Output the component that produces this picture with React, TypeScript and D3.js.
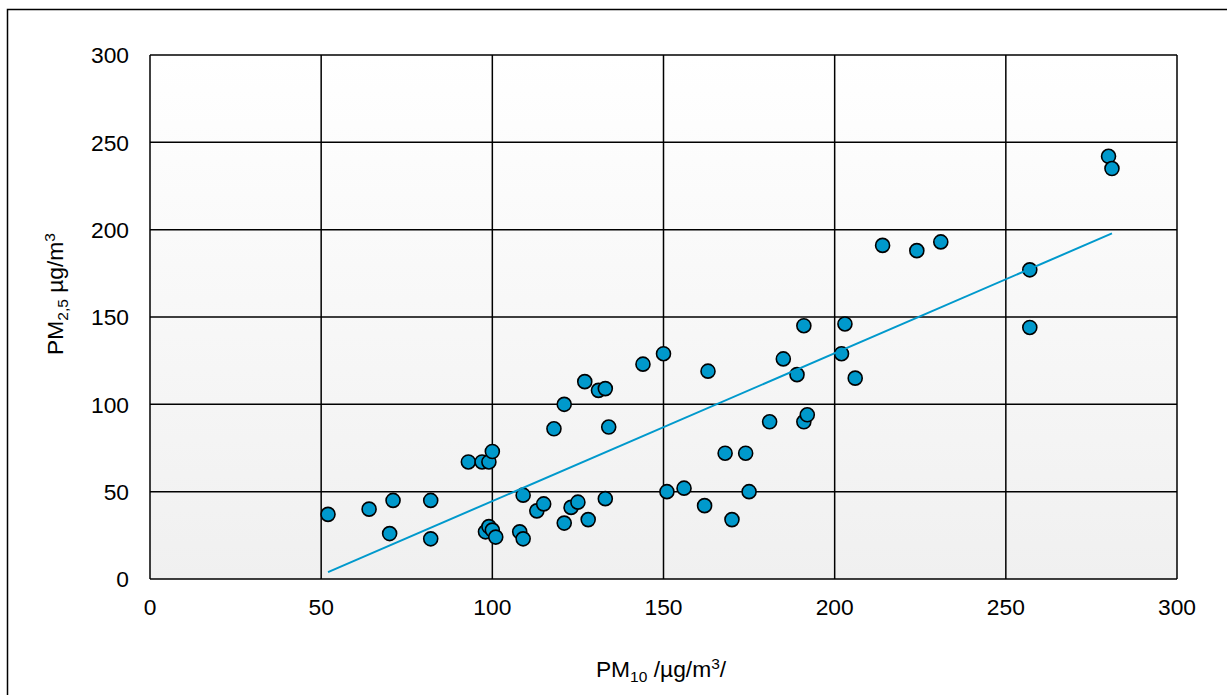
import React from "react";
import * as d3 from "d3";

const pm10 = [52,64,71,82,70,82,93,97,99,100,98,99,100,101,108,109,109,113,115,118,121,121,123,125,127,128,131,133,133,134,144,150,163,151,156,162,170,168,174,175,181,185,189,191,191,192,202,203,206,214,224,231,257,257,280,281];
const pm25 = [37,40,45,45,26,23,67,67,67,73,27,30,28,24,27,23,48,39,43,86,100,32,41,44,113,34,108,109,46,87,123,129,119,50,52,42,34,72,72,50,90,126,117,145,90,94,129,146,115,191,188,193,177,144,242,235];
const xTicks = [0, 50, 100, 150, 200, 250, 300];
const yTicks = [0, 50, 100, 150, 200, 250, 300];

const W = 1227, H = 695;
const L = 150, R = 1177, T = 55, B = 579;
const COLOR = "#0099cc";
const FONT = "'Liberation Sans', Arial, sans-serif";
const FS = 22.8;
const SUB = 15.5;

export default function App() {
  const x = d3.scaleLinear().domain([0, 300]).range([L, R]);
  const y = d3.scaleLinear().domain([0, 300]).range([B, T]);

  // least squares trend line
  const n = pm10.length;
  const mx = d3.mean(pm10)!;
  const my = d3.mean(pm25)!;
  let sxy = 0, sxx = 0;
  for (let i = 0; i < n; i++) {
    sxy += (pm10[i] - mx) * (pm25[i] - my);
    sxx += (pm10[i] - mx) ** 2;
  }
  const slope = sxy / sxx;
  const icpt = my - slope * mx;
  const x0 = d3.min(pm10)!, x1 = d3.max(pm10)!;
  const line = d3.line<number>().x((v) => x(v)).y((v) => y(slope * v + icpt));

  return (
    <svg width={W} height={H} style={{ position: "absolute", left: 0, top: 0 }} fontFamily={FONT}>
      <defs>
        <linearGradient id="bg" x1="0" y1="0" x2="0" y2="1">
          <stop offset="0" stopColor="#ffffff" />
          <stop offset="1" stopColor="#f0f0f0" />
        </linearGradient>
      </defs>
      <rect x={0} y={0} width={W} height={H} fill="#fff" />
      <rect x={7.5} y={9.5} width={W + 20} height={H + 20} fill="none" stroke="#000" strokeWidth={1.5} />
      <rect x={L} y={T} width={R - L} height={B - T} fill="url(#bg)" />
      {yTicks.map((t) => (
        <line key={"hy" + t} x1={L} x2={R} y1={y(t)} y2={y(t)} stroke="#000" strokeWidth={1.5} />
      ))}
      {xTicks.map((t) => (
        <line key={"vx" + t} x1={x(t)} x2={x(t)} y1={T} y2={B} stroke="#000" strokeWidth={1.5} />
      ))}
      {yTicks.map((t) => (
        <text key={"ly" + t} x={129} y={y(t)} dy="0.36em" textAnchor="end" fontSize={FS} fill="#000">{t}</text>
      ))}
      {xTicks.map((t) => (
        <text key={"lx" + t} x={x(t)} y={615} textAnchor="middle" fontSize={FS} fill="#000">{t}</text>
      ))}
      {pm10.map((v, i) => (
        <circle key={"p" + i} cx={x(v)} cy={y(pm25[i])} r={7} fill={COLOR} stroke="#000" strokeWidth={1.6} />
      ))}
      <path d={line([x0, x1]) || ""} fill="none" stroke={COLOR} strokeWidth={2} />
      <text x={661} y={677} textAnchor="middle" fontSize={FS} fill="#000">
        PM<tspan fontSize={SUB} dy={5}>10</tspan><tspan dy={-5}> /µg/m</tspan><tspan fontSize={SUB} dy={-8}>3</tspan><tspan dy={8}>/</tspan>
      </text>
      <text transform={`translate(63,294) rotate(-90)`} textAnchor="middle" fontSize={FS} fill="#000">
        PM<tspan fontSize={SUB} dy={5}>2,5</tspan><tspan dy={-5}> µg/m</tspan><tspan fontSize={SUB} dy={-8}>3</tspan>
      </text>
    </svg>
  );
}
